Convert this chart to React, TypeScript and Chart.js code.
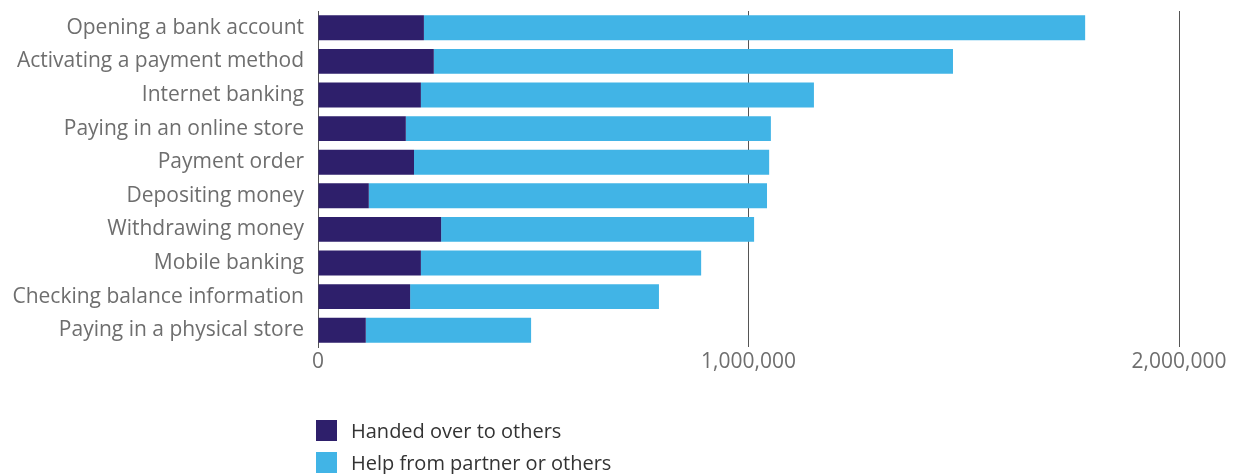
import React, { useEffect, useRef } from "react";
import { Chart, registerables } from "chart.js";

Chart.register(...registerables);

const categories = [
  "Opening a bank account",
  "Activating a payment method",
  "Internet banking",
  "Paying in an online store",
  "Payment order",
  "Depositing money",
  "Withdrawing money",
  "Mobile banking",
  "Checking balance information",
  "Paying in a physical store",
];

const handedOver = [246000, 269000, 239000, 204000, 223000, 118000, 286000, 239000, 214000, 111000];
const helpFromPartner = [1536000, 1206000, 913000, 848000, 825000, 925000, 727000, 651000, 578000, 384000];

const seriesNames = ["Handed over to others", "Help from partner or others"];
const seriesColors = ["#2e1f6b", "#41b4e6"];
const xTicks = [0, 1000000, 2000000];

const FONT = "'Open Sans', sans-serif";

export default function App() {
  const ref = useRef<HTMLCanvasElement | null>(null);

  useEffect(() => {
    document.body.style.margin = "0";
    const ctx = ref.current!;
    const chart = new Chart(ctx, {
      type: "bar",
      data: {
        labels: categories,
        datasets: [
          {
            label: seriesNames[0],
            data: handedOver,
            backgroundColor: seriesColors[0],
            barPercentage: 0.74,
            categoryPercentage: 1,
          },
          {
            label: seriesNames[1],
            data: helpFromPartner,
            backgroundColor: seriesColors[1],
            barPercentage: 0.74,
            categoryPercentage: 1,
          },
        ],
      },
      options: {
        indexAxis: "y",
        responsive: false,
        animation: false,
        layout: { padding: { top: 11, right: 57, bottom: 97, left: 0 } },
        plugins: { legend: { display: false }, tooltip: { enabled: false } },
        scales: {
          x: {
            stacked: true,
            min: 0,
            max: 2000000,
            afterBuildTicks: (scale: any) => {
              scale.ticks = xTicks.map((v) => ({ value: v }));
            },
            afterFit: (scale: any) => {
              scale.height = 30;
              scale.paddingLeft = 0;
              scale.paddingRight = 0;
            },
            grid: {
              color: (c: any) => (c.tick && c.tick.value === 0 ? "rgba(0,0,0,0)" : "#555555"),
              drawTicks: false,
              lineWidth: 1,
            },
            border: { display: false },
            ticks: {
              padding: 2,
              color: "#6e6e6e",
              font: { family: FONT, size: 21 },
              callback: (v: any) => Number(v).toLocaleString("en-US"),
            },
          },
          y: {
            stacked: true,
            afterFit: (scale: any) => {
              scale.width = 318;
              scale.paddingTop = 0;
              scale.paddingBottom = 0;
            },
            grid: { display: false, drawTicks: false },
            border: { display: true, color: "#555555", width: 1 },
            ticks: {
              padding: 14,
              color: "#6e6e6e",
              font: { family: FONT, size: 21 },
            },
          },
        },
      },
    });
    return () => chart.destroy();
  }, []);

  const legendItem = (i: number, top: number) => (
    <div
      key={i}
      style={{
        position: "absolute",
        left: 316,
        top,
        display: "flex",
        alignItems: "center",
        fontFamily: FONT,
        fontSize: 20,
        lineHeight: "27px",
        color: "#333333",
        whiteSpace: "nowrap",
      }}
    >
      <span style={{ width: 21, height: 21, background: seriesColors[i], display: "inline-block", marginRight: 14 }} />
      <span>{seriesNames[i]}</span>
    </div>
  );

  return (
    <div style={{ position: "relative", width: 1236, height: 474 }}>
      <canvas ref={ref} width={1236} height={474} style={{ position: "absolute", left: 0, top: 0 }} />
      {legendItem(0, 417)}
      {legendItem(1, 449)}
    </div>
  );
}
